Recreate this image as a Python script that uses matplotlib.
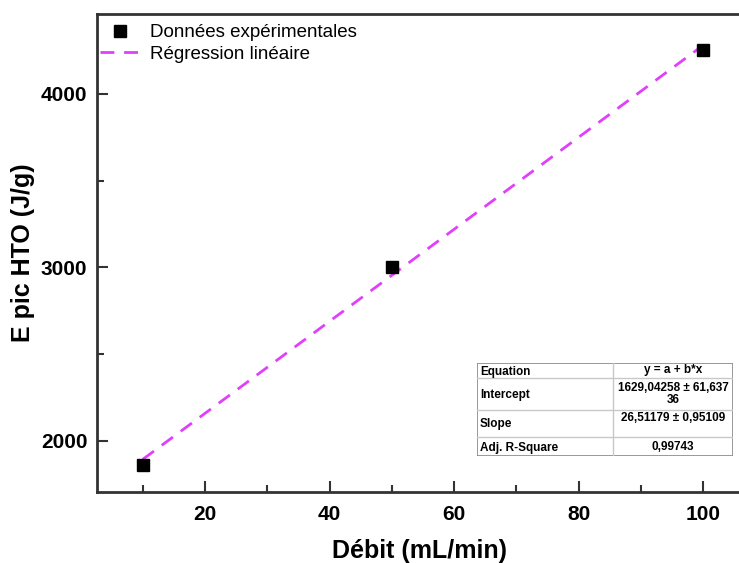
import numpy as np
import matplotlib.pyplot as plt

# données
debit = [10, 50, 100]
energie = [1861, 3000, 4254]

# paramètres de la régression (tableau Origin)
intercept = 1629.04258
slope = 26.51179

table_rows = [
    ["Equation", "y = a + b*x"],
    ["Intercept", "1629,04258 ± 61,637\n36"],
    ["Slope", "26,51179 ± 0,95109"],
    ["Adj. R-Square", "0,99743"],
]

plt.rcParams['font.family'] = ['Liberation Sans', 'DejaVu Sans']

W, H = 739, 563
fig = plt.figure(figsize=(W / 100, H / 100), dpi=100)
ax = fig.add_axes([97 / W, (H - 492) / H, 646 / W, (492 - 14) / H])

ax.plot(debit, energie, 's', color='black', markersize=8, label='Données expérimentales', zorder=3)
xf = np.array([min(debit), max(debit)])
ax.plot(xf, intercept + slope * xf, '--', color='#e040fb', linewidth=2, dashes=(5, 3.5),
        label='Régression linéaire', zorder=2)

ax.set_xlim(2.65, 2.65 + 646 / 6.225)
ax.set_ylim(1706, 4461)
ax.set_xticks([20, 40, 60, 80, 100])
ax.set_xticks(np.arange(10, 101, 20), minor=True)
ax.set_yticks([2000, 3000, 4000])
ax.set_yticks([2500, 3500], minor=True)
ax.tick_params(which='both', direction='in', width=1.5, color='#333333',
               labelsize=15, top=False, right=False)
ax.tick_params(which='major', length=8, pad=7)
ax.tick_params(which='minor', length=5)
ax.tick_params(axis='x', which='major', pad=9)
for lab in ax.get_xticklabels() + ax.get_yticklabels():
    lab.set_fontweight('bold')
ax.spines['right'].set_visible(False)
for s in ['left', 'bottom', 'top']:
    ax.spines[s].set_linewidth(2)
    ax.spines[s].set_color('#333333')

ax.set_xlabel('Débit (mL/min)', fontsize=18, fontweight='bold', labelpad=11)
ax.set_ylabel('E pic HTO (J/g)', fontsize=18, fontweight='bold', labelpad=4)

ax.legend(loc='upper left', bbox_to_anchor=(100 / W, 1 - 24 / H), bbox_transform=fig.transFigure,
          frameon=False, fontsize=13.5, handlelength=2.1, handletextpad=0.55,
          labelspacing=0.25, borderpad=0, borderaxespad=0)

# tableau des résultats
tx = fig.add_axes([477 / W, (H - 456) / H, 256 / W, 93 / H])
tx.set_xlim(0, 256)
tx.set_ylim(93, 0)
tx.axis('off')
row_edges = [0, 15, 47, 74, 93]
col_split = 136
for y in row_edges[1:-1]:
    tx.plot([0, 256], [y, y], color='#c8c8c8', lw=1)
tx.plot([col_split, col_split], [0, 93], color='#c8c8c8', lw=1)
tx.add_patch(plt.Rectangle((0, 0), 256, 93, fill=False, ec='#888888', lw=1.2))
for i, (name, val) in enumerate(table_rows):
    y0, y1 = row_edges[i], row_edges[i + 1]
    tx.text(3, (y0 + y1) / 2 + 1, name, fontsize=8.5, fontweight='bold', va='center', ha='left')
    if i == 2:
        tx.text((col_split + 256) / 2, y0 + 2, val, fontsize=8.5, fontweight='bold',
                va='top', ha='center')
    else:
        tx.text((col_split + 256) / 2, (y0 + y1) / 2, val, fontsize=8.5, fontweight='bold',
                va='center', ha='center', linespacing=1.05)

fig.savefig('out.png', dpi=100)
